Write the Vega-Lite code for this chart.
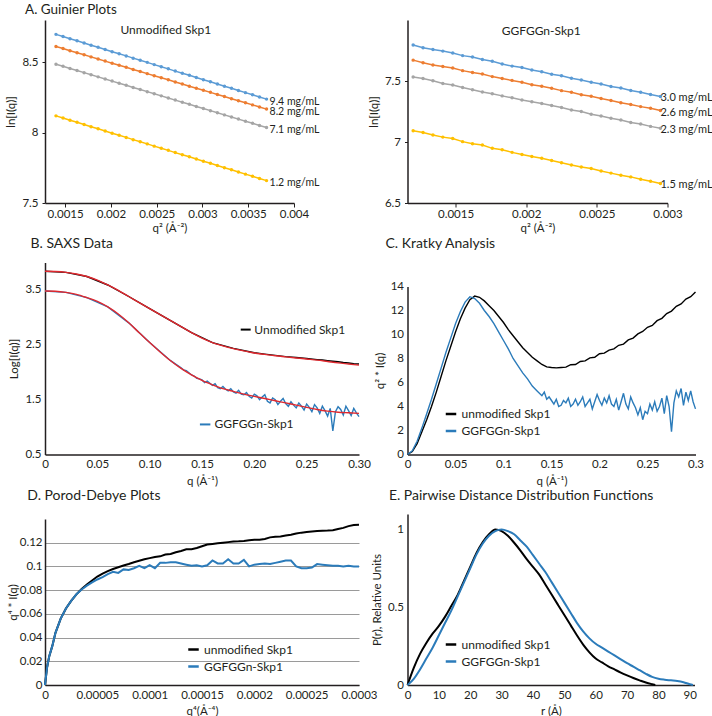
{
"$schema": "https://vega.github.io/schema/vega-lite/v6.json",
"background": "white",
"padding": {"left": 5, "top": 2, "right": 0, "bottom": 0},
"columns": 2,
"spacing": {"row": 59.5, "column": 48.5},
"bounds": "flush",
"align": "each",
"resolve": {"scale": {"color": "independent"}, "legend": {"color": "independent"}},
"datasets": {
"guinU": [
{"x":0.001400,"a":8.698,"b":8.612,"c":8.486,"d":8.119},
{"x":0.001477,"a":8.683,"b":8.597,"c":8.471,"d":8.104},
{"x":0.001553,"a":8.667,"b":8.582,"c":8.456,"d":8.088},
{"x":0.001630,"a":8.652,"b":8.568,"c":8.441,"d":8.073},
{"x":0.001707,"a":8.637,"b":8.553,"c":8.426,"d":8.058},
{"x":0.001783,"a":8.621,"b":8.538,"c":8.411,"d":8.042},
{"x":0.001860,"a":8.606,"b":8.523,"c":8.396,"d":8.027},
{"x":0.001937,"a":8.591,"b":8.508,"c":8.381,"d":8.012},
{"x":0.002013,"a":8.575,"b":8.493,"c":8.366,"d":7.996},
{"x":0.002090,"a":8.560,"b":8.479,"c":8.351,"d":7.981},
{"x":0.002167,"a":8.545,"b":8.464,"c":8.336,"d":7.966},
{"x":0.002243,"a":8.529,"b":8.449,"c":8.321,"d":7.950},
{"x":0.002320,"a":8.514,"b":8.434,"c":8.306,"d":7.935},
{"x":0.002397,"a":8.499,"b":8.419,"c":8.291,"d":7.920},
{"x":0.002473,"a":8.483,"b":8.404,"c":8.276,"d":7.904},
{"x":0.002550,"a":8.468,"b":8.390,"c":8.261,"d":7.889},
{"x":0.002627,"a":8.453,"b":8.375,"c":8.246,"d":7.874},
{"x":0.002703,"a":8.437,"b":8.360,"c":8.231,"d":7.858},
{"x":0.002780,"a":8.422,"b":8.345,"c":8.216,"d":7.843},
{"x":0.002857,"a":8.407,"b":8.330,"c":8.201,"d":7.828},
{"x":0.002933,"a":8.391,"b":8.315,"c":8.186,"d":7.812},
{"x":0.003010,"a":8.376,"b":8.301,"c":8.171,"d":7.797},
{"x":0.003087,"a":8.361,"b":8.286,"c":8.156,"d":7.782},
{"x":0.003163,"a":8.345,"b":8.271,"c":8.141,"d":7.766},
{"x":0.003240,"a":8.330,"b":8.256,"c":8.126,"d":7.751},
{"x":0.003317,"a":8.315,"b":8.241,"c":8.111,"d":7.736},
{"x":0.003393,"a":8.299,"b":8.226,"c":8.096,"d":7.720},
{"x":0.003470,"a":8.284,"b":8.212,"c":8.081,"d":7.705},
{"x":0.003547,"a":8.269,"b":8.197,"c":8.066,"d":7.690},
{"x":0.003623,"a":8.253,"b":8.182,"c":8.051,"d":7.674},
{"x":0.003700,"a":8.238,"b":8.167,"c":8.036,"d":7.659}
],
"guinG": [
{"x":0.00120,"a":7.795,"b":7.671,"c":7.533,"d":7.092},
{"x":0.00127,"a":7.772,"b":7.650,"c":7.520,"d":7.078},
{"x":0.00134,"a":7.758,"b":7.632,"c":7.502,"d":7.058},
{"x":0.00141,"a":7.745,"b":7.618,"c":7.480,"d":7.040},
{"x":0.00148,"a":7.730,"b":7.607,"c":7.468,"d":7.028},
{"x":0.00155,"a":7.708,"b":7.585,"c":7.447,"d":7.003},
{"x":0.00162,"a":7.696,"b":7.570,"c":7.428,"d":6.985},
{"x":0.00169,"a":7.677,"b":7.558,"c":7.410,"d":6.975},
{"x":0.00176,"a":7.662,"b":7.536,"c":7.395,"d":6.948},
{"x":0.00183,"a":7.640,"b":7.520,"c":7.378,"d":6.936},
{"x":0.00190,"a":7.622,"b":7.505,"c":7.362,"d":6.915},
{"x":0.00197,"a":7.610,"b":7.489,"c":7.345,"d":6.898},
{"x":0.00204,"a":7.590,"b":7.470,"c":7.330,"d":6.882},
{"x":0.00211,"a":7.576,"b":7.457,"c":7.316,"d":6.866},
{"x":0.00218,"a":7.556,"b":7.440,"c":7.300,"d":6.848},
{"x":0.00225,"a":7.543,"b":7.421,"c":7.283,"d":6.830},
{"x":0.00232,"a":7.522,"b":7.408,"c":7.262,"d":6.812},
{"x":0.00239,"a":7.508,"b":7.388,"c":7.250,"d":6.795},
{"x":0.00246,"a":7.490,"b":7.375,"c":7.228,"d":6.782},
{"x":0.00253,"a":7.475,"b":7.356,"c":7.213,"d":6.762},
{"x":0.00260,"a":7.455,"b":7.341,"c":7.195,"d":6.745},
{"x":0.00267,"a":7.442,"b":7.322,"c":7.180,"d":6.728},
{"x":0.00274,"a":7.422,"b":7.308,"c":7.160,"d":6.714},
{"x":0.00281,"a":7.408,"b":7.290,"c":7.148,"d":6.694},
{"x":0.00288,"a":7.389,"b":7.276,"c":7.128,"d":6.678},
{"x":0.00295,"a":7.373,"b":7.258,"c":7.112,"d":6.660}
],
"saxs": [
{"s":"fU","q":0,"v":3.84},{"s":"fU","q":0.01,"v":3.835},{"s":"fU","q":0.02,"v":3.82},{"s":"fU","q":0.03,"v":3.79},{"s":"fU","q":0.04,"v":3.745},{"s":"fU","q":0.05,"v":3.68},{"s":"fU","q":0.06,"v":3.59},{"s":"fU","q":0.07,"v":3.49},{"s":"fU","q":0.08,"v":3.38},{"s":"fU","q":0.09,"v":3.27},{"s":"fU","q":0.1,"v":3.16},{"s":"fU","q":0.11,"v":3.05},{"s":"fU","q":0.12,"v":2.94},{"s":"fU","q":0.13,"v":2.83},{"s":"fU","q":0.14,"v":2.72},{"s":"fU","q":0.15,"v":2.62},{"s":"fU","q":0.16,"v":2.54},{"s":"fU","q":0.17,"v":2.48},{"s":"fU","q":0.18,"v":2.43},{"s":"fU","q":0.19,"v":2.39},{"s":"fU","q":0.2,"v":2.35},{"s":"fU","q":0.21,"v":2.325},{"s":"fU","q":0.22,"v":2.3},{"s":"fU","q":0.23,"v":2.28},{"s":"fU","q":0.24,"v":2.26},{"s":"fU","q":0.25,"v":2.24},{"s":"fU","q":0.26,"v":2.22},{"s":"fU","q":0.27,"v":2.195},{"s":"fU","q":0.28,"v":2.17},{"s":"fU","q":0.29,"v":2.15},{"s":"fU","q":0.3,"v":2.13},
{"s":"fG","q":0,"v":3.48},{"s":"fG","q":0.01,"v":3.475},{"s":"fG","q":0.02,"v":3.455},{"s":"fG","q":0.03,"v":3.42},{"s":"fG","q":0.04,"v":3.36},{"s":"fG","q":0.05,"v":3.29},{"s":"fG","q":0.06,"v":3.19},{"s":"fG","q":0.07,"v":3.06},{"s":"fG","q":0.08,"v":2.9},{"s":"fG","q":0.09,"v":2.72},{"s":"fG","q":0.1,"v":2.54},{"s":"fG","q":0.11,"v":2.37},{"s":"fG","q":0.12,"v":2.21},{"s":"fG","q":0.13,"v":2.07},{"s":"fG","q":0.14,"v":1.95},{"s":"fG","q":0.15,"v":1.85},{"s":"fG","q":0.16,"v":1.77},{"s":"fG","q":0.17,"v":1.7},{"s":"fG","q":0.18,"v":1.65},{"s":"fG","q":0.19,"v":1.6},{"s":"fG","q":0.2,"v":1.56},{"s":"fG","q":0.21,"v":1.52},{"s":"fG","q":0.22,"v":1.48},{"s":"fG","q":0.23,"v":1.44},{"s":"fG","q":0.24,"v":1.4},{"s":"fG","q":0.25,"v":1.36},{"s":"fG","q":0.26,"v":1.32},{"s":"fG","q":0.27,"v":1.29},{"s":"fG","q":0.28,"v":1.27},{"s":"fG","q":0.29,"v":1.26},{"s":"fG","q":0.3,"v":1.25},
{"s":"dU","q":0,"v":3.84},{"s":"dU","q":0.02,"v":3.82},{"s":"dU","q":0.04,"v":3.745},{"s":"dU","q":0.06,"v":3.59},{"s":"dU","q":0.08,"v":3.38},{"s":"dU","q":0.1,"v":3.16},{"s":"dU","q":0.12,"v":2.94},{"s":"dU","q":0.14,"v":2.72},{"s":"dU","q":0.16,"v":2.54},{"s":"dU","q":0.18,"v":2.435},{"s":"dU","q":0.2,"v":2.355},{"s":"dU","q":0.21,"v":2.33},{"s":"dU","q":0.22,"v":2.307},{"s":"dU","q":0.23,"v":2.285},{"s":"dU","q":0.24,"v":2.268},{"s":"dU","q":0.25,"v":2.25},{"s":"dU","q":0.26,"v":2.23},{"s":"dU","q":0.265,"v":2.222},{"s":"dU","q":0.27,"v":2.21},{"s":"dU","q":0.275,"v":2.2},{"s":"dU","q":0.28,"v":2.19},{"s":"dU","q":0.285,"v":2.176},{"s":"dU","q":0.29,"v":2.168},{"s":"dU","q":0.295,"v":2.156},{"s":"dU","q":0.3,"v":2.15},
{"s":"dG","q":0,"v":3.48},{"s":"dG","q":0.02,"v":3.455},{"s":"dG","q":0.04,"v":3.36},{"s":"dG","q":0.06,"v":3.19},{"s":"dG","q":0.08,"v":2.9},{"s":"dG","q":0.1,"v":2.54},{"s":"dG","q":0.12,"v":2.21},
{"s":"dG","q":0.13,"v":2.08},{"s":"dG","q":0.1325,"v":2.04},{"s":"dG","q":0.135,"v":2.03},{"s":"dG","q":0.1375,"v":1.99},{"s":"dG","q":0.14,"v":1.95},{"s":"dG","q":0.1425,"v":1.93},{"s":"dG","q":0.145,"v":1.89},{"s":"dG","q":0.1475,"v":1.88},{"s":"dG","q":0.15,"v":1.86},{"s":"dG","q":0.1525,"v":1.81},{"s":"dG","q":0.155,"v":1.84},{"s":"dG","q":0.1575,"v":1.8},{"s":"dG","q":0.16,"v":1.76},{"s":"dG","q":0.1625,"v":1.79},{"s":"dG","q":0.165,"v":1.72},{"s":"dG","q":0.1675,"v":1.7},{"s":"dG","q":0.17,"v":1.74},{"s":"dG","q":0.1725,"v":1.69},{"s":"dG","q":0.175,"v":1.66},{"s":"dG","q":0.1775,"v":1.7},{"s":"dG","q":0.18,"v":1.64},{"s":"dG","q":0.1825,"v":1.62},{"s":"dG","q":0.185,"v":1.67},{"s":"dG","q":0.1875,"v":1.6},{"s":"dG","q":0.19,"v":1.59},{"s":"dG","q":0.1925,"v":1.63},{"s":"dG","q":0.195,"v":1.56},{"s":"dG","q":0.1975,"v":1.53},{"s":"dG","q":0.2,"v":1.6},{"s":"dG","q":0.2025,"v":1.57},{"s":"dG","q":0.205,"v":1.5},{"s":"dG","q":0.2075,"v":1.55},{"s":"dG","q":0.21,"v":1.59},{"s":"dG","q":0.2125,"v":1.47},{"s":"dG","q":0.215,"v":1.44},{"s":"dG","q":0.2175,"v":1.53},{"s":"dG","q":0.22,"v":1.5},{"s":"dG","q":0.2225,"v":1.41},{"s":"dG","q":0.225,"v":1.47},{"s":"dG","q":0.2275,"v":1.52},{"s":"dG","q":0.23,"v":1.43},{"s":"dG","q":0.2325,"v":1.38},{"s":"dG","q":0.235,"v":1.46},{"s":"dG","q":0.2375,"v":1.4},{"s":"dG","q":0.24,"v":1.35},{"s":"dG","q":0.2425,"v":1.44},{"s":"dG","q":0.245,"v":1.38},{"s":"dG","q":0.2475,"v":1.31},{"s":"dG","q":0.25,"v":1.42},{"s":"dG","q":0.2525,"v":1.36},{"s":"dG","q":0.255,"v":1.28},{"s":"dG","q":0.2575,"v":1.41},{"s":"dG","q":0.26,"v":1.35},{"s":"dG","q":0.2625,"v":1.25},{"s":"dG","q":0.265,"v":1.38},{"s":"dG","q":0.2675,"v":1.3},{"s":"dG","q":0.27,"v":1.2},{"s":"dG","q":0.2725,"v":1.34},{"s":"dG","q":0.275,"v":0.93},{"s":"dG","q":0.2775,"v":1.28},{"s":"dG","q":0.28,"v":1.37},{"s":"dG","q":0.2825,"v":1.32},{"s":"dG","q":0.285,"v":1.22},{"s":"dG","q":0.2875,"v":1.38},{"s":"dG","q":0.29,"v":1.3},{"s":"dG","q":0.2925,"v":1.21},{"s":"dG","q":0.295,"v":1.34},{"s":"dG","q":0.2975,"v":1.26},{"s":"dG","q":0.3,"v":1.19}
],
"kratky": [
{"s":"u","q":0,"v":0},{"s":"u","q":0.005,"v":0.25},{"s":"u","q":0.01,"v":0.9},{"s":"u","q":0.015,"v":1.9},{"s":"u","q":0.02,"v":2.9},{"s":"u","q":0.025,"v":4.0},{"s":"u","q":0.03,"v":5.2},{"s":"u","q":0.035,"v":6.5},{"s":"u","q":0.04,"v":7.8},{"s":"u","q":0.045,"v":9.0},{"s":"u","q":0.05,"v":10.2},{"s":"u","q":0.055,"v":11.3},{"s":"u","q":0.06,"v":12.2},{"s":"u","q":0.065,"v":12.9},{"s":"u","q":0.07,"v":13.2},{"s":"u","q":0.075,"v":13.1},{"s":"u","q":0.08,"v":12.8},{"s":"u","q":0.085,"v":12.4},{"s":"u","q":0.09,"v":12.0},{"s":"u","q":0.095,"v":11.5},{"s":"u","q":0.1,"v":11.0},{"s":"u","q":0.105,"v":10.4},{"s":"u","q":0.11,"v":9.9},{"s":"u","q":0.115,"v":9.4},{"s":"u","q":0.12,"v":8.9},{"s":"u","q":0.125,"v":8.5},{"s":"u","q":0.13,"v":8.1},{"s":"u","q":0.135,"v":7.8},{"s":"u","q":0.14,"v":7.5},{"s":"u","q":0.145,"v":7.3},{"s":"u","q":0.15,"v":7.25},{"s":"u","q":0.155,"v":7.22},{"s":"u","q":0.16,"v":7.25},{"s":"u","q":0.165,"v":7.28},{"s":"u","q":0.17,"v":7.48},{"s":"u","q":0.175,"v":7.5},{"s":"u","q":0.18,"v":7.75},{"s":"u","q":0.185,"v":7.8},{"s":"u","q":0.19,"v":8.05},{"s":"u","q":0.195,"v":8.1},{"s":"u","q":0.2,"v":8.4},{"s":"u","q":0.205,"v":8.45},{"s":"u","q":0.21,"v":8.7},{"s":"u","q":0.215,"v":8.8},{"s":"u","q":0.22,"v":9.1},{"s":"u","q":0.225,"v":9.2},{"s":"u","q":0.23,"v":9.55},{"s":"u","q":0.235,"v":9.7},{"s":"u","q":0.24,"v":10.05},{"s":"u","q":0.245,"v":10.25},{"s":"u","q":0.25,"v":10.6},{"s":"u","q":0.255,"v":10.75},{"s":"u","q":0.26,"v":11.15},{"s":"u","q":0.265,"v":11.35},{"s":"u","q":0.27,"v":11.75},{"s":"u","q":0.275,"v":11.95},{"s":"u","q":0.28,"v":12.35},{"s":"u","q":0.285,"v":12.55},{"s":"u","q":0.29,"v":12.95},{"s":"u","q":0.295,"v":13.15},{"s":"u","q":0.3,"v":13.55},
{"s":"g","q":0,"v":0},{"s":"g","q":0.005,"v":0.3},{"s":"g","q":0.01,"v":1.1},{"s":"g","q":0.015,"v":2.2},{"s":"g","q":0.02,"v":3.4},{"s":"g","q":0.025,"v":4.6},{"s":"g","q":0.03,"v":5.9},{"s":"g","q":0.035,"v":7.2},{"s":"g","q":0.04,"v":8.5},{"s":"g","q":0.045,"v":9.7},{"s":"g","q":0.05,"v":10.9},{"s":"g","q":0.055,"v":11.9},{"s":"g","q":0.06,"v":12.7},{"s":"g","q":0.065,"v":13.15},{"s":"g","q":0.07,"v":13.0},{"s":"g","q":0.075,"v":12.6},{"s":"g","q":0.08,"v":12.0},{"s":"g","q":0.085,"v":11.5},{"s":"g","q":0.09,"v":10.9},{"s":"g","q":0.095,"v":10.2},{"s":"g","q":0.1,"v":9.5},{"s":"g","q":0.105,"v":8.8},{"s":"g","q":0.11,"v":8.0},{"s":"g","q":0.115,"v":7.4},{"s":"g","q":0.12,"v":6.8},{"s":"g","q":0.125,"v":6.3},{"s":"g","q":0.13,"v":5.7},{"s":"g","q":0.135,"v":5.3},{"s":"g","q":0.14,"v":4.9},
{"s":"g","q":0.1425,"v":5.2},{"s":"g","q":0.145,"v":4.6},{"s":"g","q":0.1475,"v":4.8},{"s":"g","q":0.15,"v":4.5},{"s":"g","q":0.1525,"v":4.2},{"s":"g","q":0.155,"v":4.6},{"s":"g","q":0.1575,"v":4.0},{"s":"g","q":0.16,"v":4.1},{"s":"g","q":0.1625,"v":4.5},{"s":"g","q":0.165,"v":4.3},{"s":"g","q":0.1675,"v":4.7},{"s":"g","q":0.17,"v":4.0},{"s":"g","q":0.1725,"v":4.2},{"s":"g","q":0.175,"v":4.6},{"s":"g","q":0.1775,"v":4.1},{"s":"g","q":0.18,"v":4.4},{"s":"g","q":0.1825,"v":4.8},{"s":"g","q":0.185,"v":4.0},{"s":"g","q":0.1875,"v":4.3},{"s":"g","q":0.19,"v":4.6},{"s":"g","q":0.1925,"v":3.8},{"s":"g","q":0.195,"v":4.4},{"s":"g","q":0.1975,"v":5.0},{"s":"g","q":0.2,"v":4.5},{"s":"g","q":0.2025,"v":4.1},{"s":"g","q":0.205,"v":4.7},{"s":"g","q":0.2075,"v":4.3},{"s":"g","q":0.21,"v":4.9},{"s":"g","q":0.2125,"v":4.2},{"s":"g","q":0.215,"v":4.0},{"s":"g","q":0.2175,"v":4.6},{"s":"g","q":0.22,"v":3.7},{"s":"g","q":0.2225,"v":4.4},{"s":"g","q":0.225,"v":5.1},{"s":"g","q":0.2275,"v":4.2},{"s":"g","q":0.23,"v":3.8},{"s":"g","q":0.2325,"v":4.8},{"s":"g","q":0.235,"v":4.3},{"s":"g","q":0.2375,"v":3.9},{"s":"g","q":0.24,"v":3.3},{"s":"g","q":0.2425,"v":3.9},{"s":"g","q":0.245,"v":2.9},{"s":"g","q":0.2475,"v":3.6},{"s":"g","q":0.25,"v":3.4},{"s":"g","q":0.2525,"v":4.2},{"s":"g","q":0.255,"v":3.7},{"s":"g","q":0.2575,"v":4.4},{"s":"g","q":0.26,"v":3.6},{"s":"g","q":0.2625,"v":4.0},{"s":"g","q":0.265,"v":4.7},{"s":"g","q":0.2675,"v":3.4},{"s":"g","q":0.27,"v":4.9},{"s":"g","q":0.2725,"v":4.0},{"s":"g","q":0.275,"v":1.9},{"s":"g","q":0.2775,"v":4.3},{"s":"g","q":0.28,"v":5.3},{"s":"g","q":0.2825,"v":4.8},{"s":"g","q":0.285,"v":5.5},{"s":"g","q":0.2875,"v":4.1},{"s":"g","q":0.29,"v":5.2},{"s":"g","q":0.2925,"v":4.5},{"s":"g","q":0.295,"v":5.3},{"s":"g","q":0.2975,"v":4.4},{"s":"g","q":0.3,"v":3.8}
],
"porod": [
{"s":"u","x":0,"v":0},{"s":"u","x":0.000002,"v":0.015},{"s":"u","x":0.000004,"v":0.024},{"s":"u","x":0.000007,"v":0.033},{"s":"u","x":0.00001,"v":0.044},{"s":"u","x":0.000015,"v":0.056},{"s":"u","x":0.00002,"v":0.0645},{"s":"u","x":0.000025,"v":0.071},{"s":"u","x":0.00003,"v":0.0765},{"s":"u","x":0.000035,"v":0.081},{"s":"u","x":0.00004,"v":0.0848},{"s":"u","x":0.000045,"v":0.0882},{"s":"u","x":0.00005,"v":0.0915},{"s":"u","x":0.000055,"v":0.094},{"s":"u","x":0.00006,"v":0.096},{"s":"u","x":0.000065,"v":0.0978},{"s":"u","x":0.00007,"v":0.0993},{"s":"u","x":0.000075,"v":0.1008},{"s":"u","x":0.00008,"v":0.102},{"s":"u","x":0.000085,"v":0.1035},{"s":"u","x":0.00009,"v":0.1048},{"s":"u","x":0.000095,"v":0.106},{"s":"u","x":0.0001,"v":0.107},{"s":"u","x":0.000105,"v":0.108},{"s":"u","x":0.00011,"v":0.1085},{"s":"u","x":0.000115,"v":0.11},{"s":"u","x":0.00012,"v":0.1105},{"s":"u","x":0.000125,"v":0.112},{"s":"u","x":0.00013,"v":0.113},{"s":"u","x":0.000135,"v":0.1145},{"s":"u","x":0.00014,"v":0.1145},{"s":"u","x":0.000145,"v":0.1155},{"s":"u","x":0.00015,"v":0.117},{"s":"u","x":0.000155,"v":0.1185},{"s":"u","x":0.00016,"v":0.119},{"s":"u","x":0.000165,"v":0.1195},{"s":"u","x":0.00017,"v":0.12},{"s":"u","x":0.000175,"v":0.1205},{"s":"u","x":0.00018,"v":0.121},{"s":"u","x":0.000185,"v":0.1212},{"s":"u","x":0.00019,"v":0.1215},{"s":"u","x":0.000195,"v":0.122},{"s":"u","x":0.0002,"v":0.1225},{"s":"u","x":0.000205,"v":0.1225},{"s":"u","x":0.00021,"v":0.1232},{"s":"u","x":0.000215,"v":0.1245},{"s":"u","x":0.00022,"v":0.125},{"s":"u","x":0.000225,"v":0.1252},{"s":"u","x":0.00023,"v":0.126},{"s":"u","x":0.000235,"v":0.1268},{"s":"u","x":0.00024,"v":0.1278},{"s":"u","x":0.000245,"v":0.1285},{"s":"u","x":0.00025,"v":0.129},{"s":"u","x":0.000255,"v":0.1295},{"s":"u","x":0.00026,"v":0.1298},{"s":"u","x":0.000265,"v":0.13},{"s":"u","x":0.00027,"v":0.1302},{"s":"u","x":0.000275,"v":0.1305},{"s":"u","x":0.00028,"v":0.1315},{"s":"u","x":0.000285,"v":0.1325},{"s":"u","x":0.00029,"v":0.134},{"s":"u","x":0.000295,"v":0.135},{"s":"u","x":0.0003,"v":0.1352},
{"s":"g","x":0,"v":0},{"s":"g","x":0.000002,"v":0.015},{"s":"g","x":0.000004,"v":0.024},{"s":"g","x":0.000007,"v":0.033},{"s":"g","x":0.00001,"v":0.044},{"s":"g","x":0.000015,"v":0.056},{"s":"g","x":0.00002,"v":0.0645},{"s":"g","x":0.000025,"v":0.071},{"s":"g","x":0.00003,"v":0.0765},{"s":"g","x":0.000035,"v":0.0805},{"s":"g","x":0.00004,"v":0.0838},{"s":"g","x":0.000045,"v":0.0865},{"s":"g","x":0.00005,"v":0.089},{"s":"g","x":0.000055,"v":0.091},{"s":"g","x":0.00006,"v":0.0935},{"s":"g","x":0.000065,"v":0.0955},{"s":"g","x":0.00007,"v":0.0945},{"s":"g","x":0.000075,"v":0.0975},{"s":"g","x":0.00008,"v":0.097},{"s":"g","x":0.000085,"v":0.0985},{"s":"g","x":0.00009,"v":0.1005},{"s":"g","x":0.000095,"v":0.0985},{"s":"g","x":0.0001,"v":0.101},{"s":"g","x":0.000105,"v":0.0985},{"s":"g","x":0.00011,"v":0.103},{"s":"g","x":0.000115,"v":0.103},{"s":"g","x":0.00012,"v":0.1035},{"s":"g","x":0.000125,"v":0.1035},{"s":"g","x":0.00013,"v":0.1025},{"s":"g","x":0.000135,"v":0.1015},{"s":"g","x":0.00014,"v":0.1005},{"s":"g","x":0.000145,"v":0.101},{"s":"g","x":0.00015,"v":0.1},{"s":"g","x":0.000155,"v":0.101},{"s":"g","x":0.00016,"v":0.105},{"s":"g","x":0.000165,"v":0.1025},{"s":"g","x":0.00017,"v":0.1025},{"s":"g","x":0.000175,"v":0.106},{"s":"g","x":0.00018,"v":0.1025},{"s":"g","x":0.000185,"v":0.1025},{"s":"g","x":0.00019,"v":0.1055},{"s":"g","x":0.000195,"v":0.1},{"s":"g","x":0.0002,"v":0.1015},{"s":"g","x":0.000205,"v":0.102},{"s":"g","x":0.00021,"v":0.1025},{"s":"g","x":0.000215,"v":0.102},{"s":"g","x":0.00022,"v":0.103},{"s":"g","x":0.000225,"v":0.104},{"s":"g","x":0.00023,"v":0.105},{"s":"g","x":0.000235,"v":0.105},{"s":"g","x":0.00024,"v":0.1},{"s":"g","x":0.000245,"v":0.0985},{"s":"g","x":0.00025,"v":0.0985},{"s":"g","x":0.000255,"v":0.099},{"s":"g","x":0.00026,"v":0.102},{"s":"g","x":0.000265,"v":0.1015},{"s":"g","x":0.00027,"v":0.101},{"s":"g","x":0.000275,"v":0.1005},{"s":"g","x":0.00028,"v":0.1005},{"s":"g","x":0.000285,"v":0.1},{"s":"g","x":0.00029,"v":0.1005},{"s":"g","x":0.000295,"v":0.1},{"s":"g","x":0.0003,"v":0.1}
],
"pr": [
{"s":"u","r":0,"v":0},{"s":"u","r":2,"v":0.11},{"s":"u","r":4,"v":0.2},{"s":"u","r":6,"v":0.27},{"s":"u","r":8,"v":0.33},{"s":"u","r":10,"v":0.38},{"s":"u","r":12,"v":0.44},{"s":"u","r":14,"v":0.51},{"s":"u","r":16,"v":0.58},{"s":"u","r":18,"v":0.67},{"s":"u","r":20,"v":0.76},{"s":"u","r":22,"v":0.85},{"s":"u","r":24,"v":0.92},{"s":"u","r":26,"v":0.97},{"s":"u","r":28,"v":1.0},{"s":"u","r":30,"v":0.99},{"s":"u","r":32,"v":0.96},{"s":"u","r":34,"v":0.915},{"s":"u","r":36,"v":0.865},{"s":"u","r":38,"v":0.81},{"s":"u","r":40,"v":0.76},{"s":"u","r":42,"v":0.71},{"s":"u","r":44,"v":0.645},{"s":"u","r":46,"v":0.58},{"s":"u","r":48,"v":0.515},{"s":"u","r":50,"v":0.45},{"s":"u","r":52,"v":0.385},{"s":"u","r":54,"v":0.32},{"s":"u","r":56,"v":0.26},{"s":"u","r":58,"v":0.21},{"s":"u","r":60,"v":0.17},{"s":"u","r":62,"v":0.145},{"s":"u","r":64,"v":0.12},{"s":"u","r":66,"v":0.1},{"s":"u","r":68,"v":0.08},{"s":"u","r":70,"v":0.062},{"s":"u","r":72,"v":0.045},{"s":"u","r":74,"v":0.03},{"s":"u","r":76,"v":0.016},{"s":"u","r":78,"v":0.005},{"s":"u","r":79,"v":0},
{"s":"g","r":0,"v":0},{"s":"g","r":2,"v":0.04},{"s":"g","r":4,"v":0.1},{"s":"g","r":6,"v":0.17},{"s":"g","r":8,"v":0.24},{"s":"g","r":10,"v":0.32},{"s":"g","r":12,"v":0.4},{"s":"g","r":14,"v":0.48},{"s":"g","r":16,"v":0.57},{"s":"g","r":18,"v":0.66},{"s":"g","r":20,"v":0.75},{"s":"g","r":22,"v":0.84},{"s":"g","r":24,"v":0.91},{"s":"g","r":26,"v":0.96},{"s":"g","r":28,"v":0.99},{"s":"g","r":30,"v":1.0},{"s":"g","r":32,"v":0.99},{"s":"g","r":34,"v":0.97},{"s":"g","r":36,"v":0.93},{"s":"g","r":38,"v":0.89},{"s":"g","r":40,"v":0.835},{"s":"g","r":42,"v":0.78},{"s":"g","r":44,"v":0.725},{"s":"g","r":46,"v":0.66},{"s":"g","r":48,"v":0.595},{"s":"g","r":50,"v":0.53},{"s":"g","r":52,"v":0.465},{"s":"g","r":54,"v":0.4},{"s":"g","r":56,"v":0.345},{"s":"g","r":58,"v":0.3},{"s":"g","r":60,"v":0.265},{"s":"g","r":62,"v":0.24},{"s":"g","r":64,"v":0.215},{"s":"g","r":66,"v":0.19},{"s":"g","r":68,"v":0.165},{"s":"g","r":70,"v":0.14},{"s":"g","r":72,"v":0.118},{"s":"g","r":74,"v":0.095},{"s":"g","r":76,"v":0.072},{"s":"g","r":78,"v":0.052},{"s":"g","r":80,"v":0.04},{"s":"g","r":82,"v":0.034},{"s":"g","r":84,"v":0.03},{"s":"g","r":86,"v":0.026},{"s":"g","r":88,"v":0.018},{"s":"g","r":90,"v":0.005},{"s":"g","r":91,"v":0}
]
},
"concat": [
{
"width": 249, "height": 183,
"title": {"text": "A. Guinier Plots", "dx": -20, "offset": 4, "fontSize": 13.5},
"data": {"name": "guinU"},
"transform": [{"fold": ["a","b","c","d"], "as": ["s","y"]}],
"layer": [
{"mark": {"type": "line", "strokeWidth": 1.5, "point": {"filled": true, "size": 12}},
 "encoding": {
  "x": {"field": "x", "type": "quantitative", "scale": {"domain": [0.00128, 0.004], "nice": false, "zero": false}, "axis": {"values": [0.0015,0.002,0.0025,0.003,0.0035,0.004], "labelExpr": "''+datum.value", "title": "q² (Å⁻²)", "ticks": true, "tickSize": 4, "labelPadding": 1, "titlePadding": 3}},
  "y": {"field": "y", "type": "quantitative", "scale": {"domain": [7.5, 8.8], "nice": false, "zero": false}, "axis": {"values": [7.5,8,8.5], "labelExpr": "''+datum.value", "title": "ln[I(q)]", "ticks": true, "tickSize": 3}},
  "color": {"field": "s", "type": "nominal", "scale": {"domain": ["a","b","c","d"], "range": ["#5b9bd5","#ed7d31","#a5a5a5","#ffc000"]}, "legend": null}
 }},
{"transform": [{"filter": "datum.x >= 0.00369"}, {"lookup": "s", "from": {"data": {"values": [{"s":"a","name":"9.4 mg/mL"},{"s":"b","name":"8.2 mg/mL"},{"s":"c","name":"7.1 mg/mL"},{"s":"d","name":"1.2 mg/mL"}]}, "key": "s", "fields": ["name"]}}],
 "mark": {"type": "text", "align": "left", "baseline": "middle", "dx": 3, "dy": 2.5, "fontSize": 10.5, "color": "#231f20"},
 "encoding": {"x": {"field": "x", "type": "quantitative"}, "y": {"field": "y", "type": "quantitative"}, "text": {"field": "name"}}},
{"data": {"values": [{}]}, "mark": {"type": "text", "fontSize": 12, "color": "#231f20"},
 "encoding": {"x": {"datum": 0.0026}, "y": {"datum": 8.73}, "text": {"value": "Unmodified Skp1"}}}
]
},
{
"width": 260, "height": 183,
"data": {"name": "guinG"},
"transform": [{"fold": ["a","b","c","d"], "as": ["s","y"]}],
"layer": [
{"mark": {"type": "line", "strokeWidth": 1.5, "point": {"filled": true, "size": 12}},
 "encoding": {
  "x": {"field": "x", "type": "quantitative", "scale": {"domain": [0.00116, 0.003], "nice": false, "zero": false}, "axis": {"values": [0.0015,0.002,0.0025,0.003], "labelExpr": "''+datum.value", "title": "q² (Å⁻²)", "ticks": true, "tickSize": 4, "labelPadding": 1, "titlePadding": 3}},
  "y": {"field": "y", "type": "quantitative", "scale": {"domain": [6.5, 8.0], "nice": false, "zero": false}, "axis": {"values": [6.5,7,7.5], "labelExpr": "''+datum.value", "title": "ln[I(q)]", "ticks": true, "tickSize": 3}},
  "color": {"field": "s", "type": "nominal", "scale": {"domain": ["a","b","c","d"], "range": ["#5b9bd5","#ed7d31","#a5a5a5","#ffc000"]}, "legend": null}
 }},
{"transform": [{"filter": "datum.x >= 0.00294"}, {"lookup": "s", "from": {"data": {"values": [{"s":"a","name":"3.0 mg/mL"},{"s":"b","name":"2.6 mg/mL"},{"s":"c","name":"2.3 mg/mL"},{"s":"d","name":"1.5 mg/mL"}]}, "key": "s", "fields": ["name"]}}],
 "mark": {"type": "text", "align": "left", "baseline": "middle", "dx": 0, "dy": 2, "fontSize": 11, "color": "#231f20"},
 "encoding": {"x": {"field": "x", "type": "quantitative"}, "y": {"field": "y", "type": "quantitative"}, "text": {"field": "name"}}},
{"data": {"values": [{}]}, "mark": {"type": "text", "fontSize": 12, "color": "#231f20"},
 "encoding": {"x": {"datum": 0.002106}, "y": {"datum": 7.91}, "text": {"value": "GGFGGn-Skp1"}}}
]
},
{
"width": 314, "height": 192,
"title": {"text": "B. SAXS Data", "dx": -14.5, "offset": 12},
"data": {"name": "saxs"},
"layer": [
{"transform": [{"filter": "datum.s == 'dU' || datum.s == 'dG'"}],
 "mark": {"type": "line", "strokeWidth": 1.4},
 "encoding": {
  "x": {"field": "q", "type": "quantitative", "scale": {"domain": [0, 0.3], "nice": false}, "axis": {"values": [0,0.05,0.1,0.15,0.2,0.25,0.3], "labelExpr": "datum.value == 0 ? '0' : format(datum.value, '.2f')", "title": "q (Å⁻¹)"}},
  "y": {"field": "v", "type": "quantitative", "scale": {"domain": [0.5, 4], "nice": false, "zero": false}, "axis": {"values": [0.5,1,1.5,2,2.5,3,3.5,4], "labelExpr": "''+datum.value", "title": "Log[I(q)]"}},
  "color": {"field": "s", "type": "nominal", "scale": {"domain": ["dU","dG","fU","fG"], "range": ["#000000","#2b7bba","#e0282e","#e0282e"]}, "legend": null}
 }},
{"transform": [{"filter": "datum.s == 'fU' || datum.s == 'fG'"}],
 "mark": {"type": "line", "strokeWidth": 1.4, "interpolate": "monotone"},
 "encoding": {
  "x": {"field": "q", "type": "quantitative"},
  "y": {"field": "v", "type": "quantitative"},
  "color": {"field": "s", "type": "nominal", "legend": null}
 }},
{"data": {"values": [{}]}, "mark": {"type": "rule", "strokeWidth": 2, "color": "#000000"},
 "encoding": {"x": {"datum": 0.187}, "x2": {"datum": 0.1965}, "y": {"datum": 2.777}}},
{"data": {"values": [{}]}, "mark": {"type": "text", "align": "left", "baseline": "middle", "fontSize": 12, "color": "#231f20"},
 "encoding": {"x": {"datum": 0.2}, "y": {"datum": 2.777}, "text": {"value": "Unmodified Skp1"}}},
{"data": {"values": [{}]}, "mark": {"type": "rule", "strokeWidth": 2, "color": "#2b7bba"},
 "encoding": {"x": {"datum": 0.148}, "x2": {"datum": 0.158}, "y": {"datum": 1.048}}},
{"data": {"values": [{}]}, "mark": {"type": "text", "align": "left", "baseline": "middle", "fontSize": 12, "color": "#231f20"},
 "encoding": {"x": {"datum": 0.162}, "y": {"datum": 1.048}, "text": {"value": "GGFGGn-Skp1"}}}
]
},
{
"width": 288, "height": 192,
"title": {"text": "C. Kratky Analysis", "dx": -22, "offset": 12},
"data": {"name": "kratky"},
"mark": {"type": "line", "strokeWidth": 1.4},
"encoding": {
 "x": {"field": "q", "type": "quantitative", "scale": {"domain": [0, 0.3], "nice": false}, "axis": {"values": [0,0.05,0.1,0.15,0.2,0.25,0.3], "labelExpr": "''+datum.value", "title": "q (Å⁻¹)"}},
 "y": {"field": "v", "type": "quantitative", "scale": {"domain": [0, 14], "nice": false, "range": [192, 24]}, "axis": {"values": [0,2,4,6,8,10,12,14], "labelExpr": "''+datum.value", "title": "q² * I(q)"}},
 "color": {"field": "s", "type": "nominal", "scale": {"domain": ["u","g"], "range": ["#000000","#2b7bba"]},
  "legend": {"orient": "none", "legendX": 37, "legendY": 145, "title": null, "labelExpr": "datum.label == 'u' ? 'unmodified Skp1' : 'GGFGGn-Skp1'"}}
}
},
{
"width": 314, "height": 171,
"title": {"text": "D. Porod-Debye Plots", "dx": -17.7, "offset": 11},
"data": {"name": "porod"},
"mark": {"type": "line", "strokeWidth": 2},
"encoding": {
 "x": {"field": "x", "type": "quantitative", "scale": {"domain": [0, 0.0003], "nice": false}, "axis": {"values": [0,0.00005,0.0001,0.00015,0.0002,0.00025,0.0003], "labelExpr": "''+datum.value", "title": "q⁴(Å⁻⁴)"}},
 "y": {"field": "v", "type": "quantitative", "scale": {"domain": [0, 0.14], "nice": false, "range": [171, 5]}, "axis": {"values": [0,0.02,0.04,0.06,0.08,0.1,0.12], "labelExpr": "''+datum.value", "title": "q⁴ * I(q)", "titlePadding": 1, "labelPadding": 3, "grid": true, "gridColor": "#9a9a9a", "gridWidth": 1}},
 "color": {"field": "s", "type": "nominal", "scale": {"domain": ["u","g"], "range": ["#000000","#2b7bba"]},
  "legend": {"orient": "none", "legendX": 142, "legendY": 129, "title": null, "labelExpr": "datum.label == 'u' ? 'unmodified Skp1' : 'GGFGGn-Skp1'"}}
}
},
{
"width": 287, "height": 171,
"title": {"text": "E. Pairwise Distance Distribution Functions", "dx": -18.6, "offset": 11},
"data": {"name": "pr"},
"mark": {"type": "line", "strokeWidth": 2, "interpolate": "monotone"},
"encoding": {
 "x": {"field": "r", "type": "quantitative", "scale": {"domain": [0, 91.5], "nice": false}, "axis": {"values": [0,10,20,30,40,50,60,70,80,90], "labelExpr": "''+datum.value", "title": "r (Å)"}},
 "y": {"field": "v", "type": "quantitative", "scale": {"domain": [0, 1.1], "nice": false}, "axis": {"values": [0,0.5,1], "labelExpr": "''+datum.value", "title": "P(r), Relative Units"}},
 "color": {"field": "s", "type": "nominal", "scale": {"domain": ["u","g"], "range": ["#000000","#2b7bba"]},
  "legend": {"orient": "none", "legendX": 37, "legendY": 124, "title": null, "labelExpr": "datum.label == 'u' ? 'unmodified Skp1' : 'GGFGGn-Skp1'"}}
}
}
],
"config": {
 "font": "Lato",
 "view": {"stroke": null},
 "axis": {"domainColor": "#231f20", "domainWidth": 1.5, "labelColor": "#231f20", "labelFontSize": 11.5, "titleColor": "#231f20", "titleFontSize": 11.5, "titleFontWeight": "normal", "grid": false, "ticks": false, "tickColor": "#231f20", "labelPadding": 4, "titlePadding": 5, "labelOverlap": false, "labelFlush": false},
 "title": {"fontSize": 14, "fontWeight": "normal", "color": "#231f20", "anchor": "start", "frame": "group", "baseline": "alphabetic"},
 "legend": {"symbolType": "stroke", "symbolSize": 110, "symbolStrokeWidth": 2.5, "labelFontSize": 12, "labelColor": "#231f20", "rowPadding": 4, "labelOffset": 4}
}
}
